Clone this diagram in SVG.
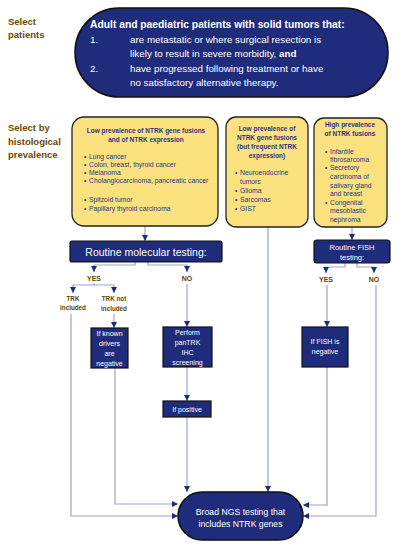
<svg xmlns="http://www.w3.org/2000/svg" width="420" height="545" viewBox="0 0 420 545">
<defs>
<style>
text{font-family:"Liberation Sans",Arial,sans-serif}
.sec{font-size:9.5px;font-weight:bold;fill:#6a4a00}
.pill{fill:#1f2b7b;stroke:#111;stroke-width:1.5}
.ybox{fill:#fce27e;stroke:#222;stroke-width:1.3}
.nbox{fill:#1f2b7b;stroke:#111;stroke-width:1.2}
.w{fill:#fff}
.yt{font-size:6.5px;font-weight:bold;fill:#2a3580;text-anchor:middle}
.yb{font-size:6.8px;fill:#2a3580}
.lbl{font-size:7px;font-weight:bold;fill:#5e4300;text-anchor:middle}
.lbl2{font-size:6.3px;font-weight:bold;fill:#5e4300;text-anchor:middle}
.c{fill:none;stroke:#9aa6c9;stroke-width:1.2}
.m{text-anchor:middle}
</style>
<marker id="ah" markerUnits="userSpaceOnUse" markerWidth="6" markerHeight="6" refX="6" refY="3" orient="auto">
<path d="M0,0 L6,3 L0,6 z" fill="#1f2b7b"/>
</marker>
</defs>
<rect width="420" height="545" fill="#fff"/>

<g id="section-labels">
<text class="sec" x="8" y="25">Select</text>
<text class="sec" x="8" y="38">patients</text>
<text class="sec" x="8" y="131">Select by</text>
<text class="sec" x="8" y="145">histological</text>
<text class="sec" x="8" y="158">prevalence</text>
</g>

<g id="connectors">
<path class="c" d="M145,226 V241" marker-end="url(#ah)"/>
<path class="c" d="M352,227 V240" marker-end="url(#ah)"/>
<path class="c" d="M135,262 V265 H94 V272" marker-end="url(#ah)"/>
<path class="c" d="M148,262 V265 H187 V272" marker-end="url(#ah)"/>
<path class="c" d="M94,283 V285 H73 V293" marker-end="url(#ah)"/>
<path class="c" d="M94,285 H114 V293" marker-end="url(#ah)"/>
<path class="c" d="M114,314 V328" marker-end="url(#ah)"/>
<path class="c" d="M187,284 V327" marker-end="url(#ah)"/>
<path class="c" d="M187,367 V401" marker-end="url(#ah)"/>
<path class="c" d="M187,417 V492" marker-end="url(#ah)"/>
<path class="c" d="M71,314 V516 H178" marker-end="url(#ah)"/>
<path class="c" d="M115,368 V504 H178" marker-end="url(#ah)"/>
<path class="c" d="M268,227 V492" marker-end="url(#ah)"/>
<path class="c" d="M345,263 V267 H326 V273" marker-end="url(#ah)"/>
<path class="c" d="M357,263 V267 H374 V273" marker-end="url(#ah)"/>
<path class="c" d="M327,285 V327" marker-end="url(#ah)"/>
<path class="c" d="M327,367 V505 H303" marker-end="url(#ah)"/>
<path class="c" d="M376,285 V516 H303" marker-end="url(#ah)"/>
</g>

<g id="patients">
<rect class="pill" x="75" y="8" width="313" height="89" rx="44"/>
<text class="w" x="90" y="28" font-size="10.3" font-weight="bold">Adult and paediatric patients with solid tumors that:</text>
<text class="w" x="90" y="43" font-size="9.8">1.</text>
<text class="w" x="130" y="43" font-size="9.8">are metastatic or where surgical resection is</text>
<text class="w" x="130" y="57" font-size="9.8">likely to result in severe morbidity, <tspan font-weight="bold">and</tspan></text>
<text class="w" x="90" y="72" font-size="9.8">2.</text>
<text class="w" x="130" y="72" font-size="9.8">have progressed following treatment or have</text>
<text class="w" x="130" y="86" font-size="9.8">no satisfactory alternative therapy.</text>
</g>

<g id="low-prevalence">
<rect class="ybox" x="72" y="117" width="146" height="109" rx="12"/>
<text class="yt" x="146" y="133">Low prevalence of NTRK gene fusions</text>
<text class="yt" x="146" y="142">and of NTRK expression</text>
<g class="yb" font-size="7">
<text x="84" y="159">•</text><text x="89" y="159">Lung cancer</text>
<text x="84" y="167">•</text><text x="89" y="167">Colon, breast, thyroid cancer</text>
<text x="84" y="175">•</text><text x="89" y="175">Melanoma</text>
<text x="84" y="183">•</text><text x="89" y="183">Cholangiocarcinoma, pancreatic cancer</text>
<text x="84" y="202">•</text><text x="89" y="202">Spitzoid tumor</text>
<text x="84" y="211">•</text><text x="89" y="211">Papillary thyroid carcinoma</text>
</g>
</g>

<g id="low-fusion-frequent-expression">
<rect class="ybox" x="226" y="117" width="82" height="110" rx="10"/>
<text class="yt" x="267" y="131">Low prevalence of</text>
<text class="yt" x="267" y="140">NTRK gene fusions</text>
<text class="yt" x="267" y="149">(but frequent NTRK</text>
<text class="yt" x="267" y="158">expression)</text>
<g class="yb">
<text x="235" y="175">•</text><text x="240" y="175">Neuroendocrine</text>
<text x="240" y="184">tumors</text>
<text x="235" y="193">•</text><text x="240" y="193">Glioma</text>
<text x="235" y="202">•</text><text x="240" y="202">Sarcomas</text>
<text x="235" y="211">•</text><text x="240" y="211">GIST</text>
</g>
</g>

<g id="high-prevalence">
<rect class="ybox" x="314" y="118" width="73" height="109" rx="10"/>
<text class="yt" x="350" y="127">High prevalence</text>
<text class="yt" x="350" y="136">of NTRK fusions</text>
<g class="yb" font-size="6.6">
<text x="325" y="154">•</text><text x="330" y="154">Infantile</text>
<text x="330" y="162">fibrosarcoma</text>
<text x="325" y="170">•</text><text x="330" y="170">Secretory</text>
<text x="330" y="179">carcinoma of</text>
<text x="330" y="188">salivary gland</text>
<text x="330" y="196">and breast</text>
<text x="325" y="205">•</text><text x="330" y="205">Congenital</text>
<text x="330" y="213">mesoblastic</text>
<text x="330" y="222">nephroma</text>
</g>
</g>

<g id="routine-molecular">
<rect class="nbox" x="70" y="241" width="152" height="21" rx="2"/>
<text class="w m" x="146" y="255.5" font-size="10.5">Routine molecular testing:</text>
</g>

<g id="routine-fish">
<rect class="nbox" x="314" y="240" width="76" height="23" rx="3"/>
<text class="w m" x="352" y="250" font-size="7.5">Routine FISH</text>
<text class="w m" x="352" y="260" font-size="7.5">testing:</text>
</g>

<g id="labels">
<text class="lbl" x="94" y="281">YES</text>
<text class="lbl" x="187" y="281">NO</text>
<text class="lbl" x="326" y="282">YES</text>
<text class="lbl" x="374" y="282">NO</text>
<text class="lbl2" x="73" y="301">TRK</text>
<text class="lbl2" x="73" y="310">included</text>
<text class="lbl2" x="114" y="301">TRK not</text>
<text class="lbl2" x="114" y="311">included</text>
</g>

<g id="known-drivers">
<rect class="nbox" x="91" y="328" width="37" height="40"/>
<text class="w m" x="109.5" y="335.5" font-size="7">If known</text>
<text class="w m" x="109.5" y="345.5" font-size="7">drivers</text>
<text class="w m" x="109.5" y="355.5" font-size="7">are</text>
<text class="w m" x="109.5" y="365.5" font-size="7">negative</text>
</g>

<g id="pantrk">
<rect class="nbox" x="163" y="327" width="49" height="40"/>
<text class="w m" x="187.5" y="334.5" font-size="7">Perform</text>
<text class="w m" x="187.5" y="344.5" font-size="7">panTRK</text>
<text class="w m" x="187.5" y="354.5" font-size="7">IHC</text>
<text class="w m" x="187.5" y="364.5" font-size="7">screening</text>
</g>

<g id="if-positive">
<rect class="nbox" x="163" y="401" width="48" height="16"/>
<text class="w m" x="187" y="411.5" font-size="7">If positive</text>
</g>

<g id="fish-negative">
<rect class="nbox" x="302" y="327" width="46" height="40"/>
<text class="w m" x="325" y="344" font-size="7">If FISH is</text>
<text class="w m" x="325" y="353.5" font-size="7">negative</text>
</g>

<g id="ngs">
<rect class="pill" x="178" y="492" width="125" height="48" rx="24"/>
<text class="w m" x="240.5" y="515" font-size="8.7">Broad NGS testing that</text>
<text class="w m" x="240.5" y="527" font-size="8.7">includes NTRK genes</text>
</g>
</svg>
